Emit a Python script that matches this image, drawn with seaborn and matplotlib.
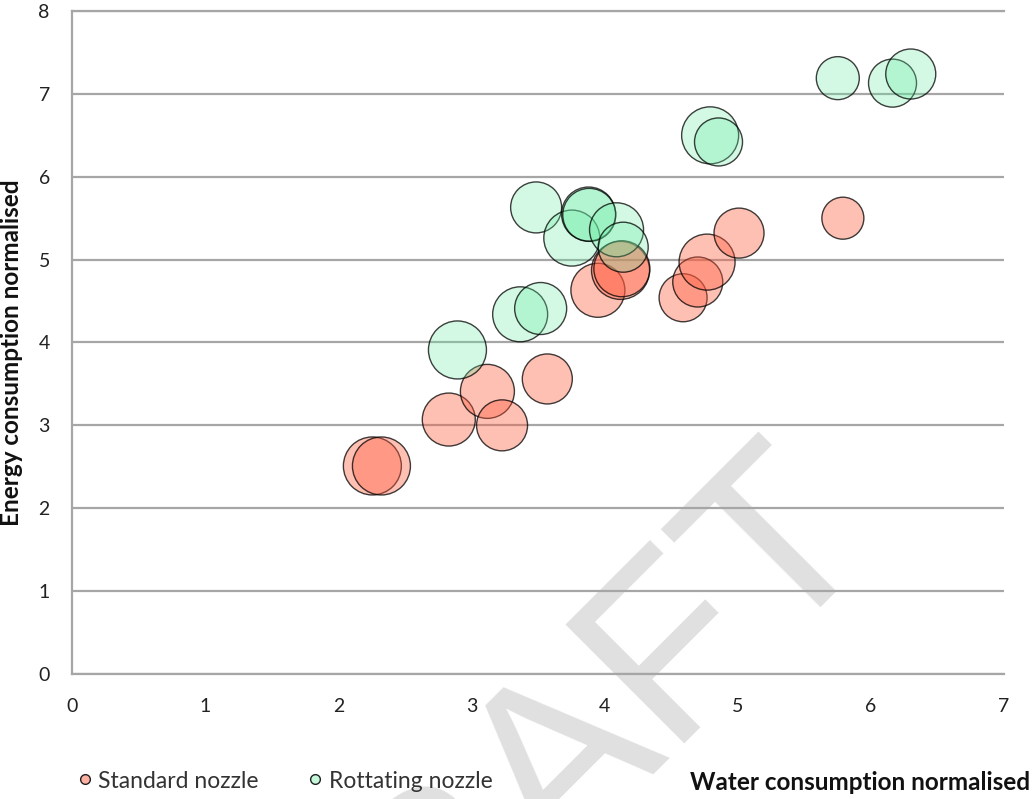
import matplotlib
matplotlib.use("Agg")
import matplotlib.pyplot as plt
from matplotlib.lines import Line2D
import seaborn as sns
import pandas as pd

# Standard nozzle: water use, energy use and bubble value (relative area)
standard_water = [2.256, 2.324, 2.83, 3.12, 3.23, 3.57, 3.95, 4.12, 4.13, 4.59, 4.70, 4.77, 5.01, 5.79]
standard_energy = [2.51, 2.51, 3.07, 3.41, 3.00, 3.56, 4.63, 4.87, 4.89, 4.54, 4.73, 4.97, 5.32, 5.50]
standard_bubble = [8.41, 8.41, 7.02, 7.29, 6.50, 6.25, 7.29, 8.41, 7.84, 5.76, 6.25, 7.84, 6.25, 4.41]

# Rotating nozzle
rotating_water = [2.895, 3.366, 3.52, 3.486, 3.754, 3.88, 3.885, 4.09, 4.14, 4.793, 4.856, 5.752, 6.163, 6.30]
rotating_energy = [3.91, 4.34, 4.41, 5.63, 5.26, 5.55, 5.54, 5.36, 5.15, 6.50, 6.42, 7.19, 7.13, 7.24]
rotating_bubble = [8.41, 7.56, 6.76, 6.50, 7.84, 7.29, 7.02, 7.29, 6.25, 8.12, 5.76, 4.62, 5.76, 6.25]

series_names = ["Standard nozzle", "Rottating nozzle"]
x_ticks = [0, 1, 2, 3, 4, 5, 6, 7]
y_ticks = [0, 1, 2, 3, 4, 5, 6, 7, 8]
x_title = "Water consumption normalised"
y_title = "Energy consumption normalised"
watermark = "DRAFT"

sns.set_theme(style="white")
plt.rcParams["font.family"] = ["Lato", "DejaVu Sans"]

df = pd.concat([
    pd.DataFrame({"water": standard_water, "energy": standard_energy,
                  "bubble": standard_bubble, "nozzle": series_names[0]}),
    pd.DataFrame({"water": rotating_water, "energy": rotating_energy,
                  "bubble": rotating_bubble, "nozzle": series_names[1]}),
], ignore_index=True)

base_colors = {series_names[0]: (1.0, 90 / 255, 60 / 255),
               series_names[1]: (100 / 255, 235 / 255, 160 / 255)}
face_alpha = {series_names[0]: 0.38, series_names[1]: 0.28}

fig = plt.figure(figsize=(10.35, 7.99), dpi=100)
fig.patch.set_facecolor("white")

# large diagonal watermark behind the plot
fig.text(876 / 1035, 1 - 532 / 799, watermark, rotation=45, rotation_mode="anchor",
         ha="right", va="baseline", fontsize=176, color="#e0e0e0", zorder=-5,
         family=["Liberation Sans", "DejaVu Sans"])

ax = fig.add_axes([0.0696, 0.1565, 0.9004, 0.8297])
ax.set_facecolor("none")

vmax = max(max(standard_bubble), max(rotating_bubble))
area_per_unit = 207.36  # points^2 per bubble unit
sns.scatterplot(data=df, x="water", y="energy", hue="nozzle", size="bubble",
                palette=base_colors, sizes=(0, area_per_unit * vmax),
                size_norm=(0, vmax), edgecolor="black", linewidth=1.0,
                legend=False, ax=ax, zorder=3)

# translucent fills with dark outlines
coll = ax.collections[0]
faces = [(*base_colors[n], face_alpha[n]) for n in df["nozzle"]]
coll.set_facecolors(faces)
coll.set_edgecolors([(0, 0, 0, 0.75)] * len(df))

grid_color = "#a6a6a6"
ax.set_xlim(0, 7)
ax.set_ylim(0, 8)
ax.set_xticks(x_ticks)
ax.set_yticks(y_ticks)
ax.yaxis.grid(True, color=grid_color, linewidth=1.6)
ax.xaxis.grid(False)
ax.set_axisbelow(True)
for side in ["left", "bottom", "top"]:
    ax.spines[side].set_visible(True)
    ax.spines[side].set_color(grid_color)
    ax.spines[side].set_linewidth(1.6)
ax.spines["right"].set_visible(False)
ax.tick_params(axis="both", length=0, labelsize=14, colors="#222222")
ax.tick_params(axis="x", pad=17)
ax.tick_params(axis="y", pad=16)
ax.set_xlabel("")
ax.set_ylabel(y_title, fontsize=17.5, fontweight="bold", color="#111111")
ax.yaxis.set_label_coords(-0.0525, 0.485)

fig.text(1030 / 1035, 1 - 783 / 799, x_title, ha="right", va="center",
         fontsize=17.5, fontweight="bold", color="#111111")

handles = [Line2D([], [], marker="o", linestyle="", markersize=7,
                  markerfacecolor=(*base_colors[n], face_alpha[n] + 0.1),
                  markeredgecolor="#202020", markeredgewidth=1.0)
           for n in series_names]
fig.legend(handles, series_names, loc="center left",
           bbox_to_anchor=(0.0741, 1 - 781 / 799), ncol=2, frameon=False,
           fontsize=16.5, handlelength=0.7, handletextpad=0.25,
           columnspacing=2.1, borderpad=0, borderaxespad=0,
           labelcolor="#333333")

fig.savefig("out.png", dpi=100, facecolor="white")
